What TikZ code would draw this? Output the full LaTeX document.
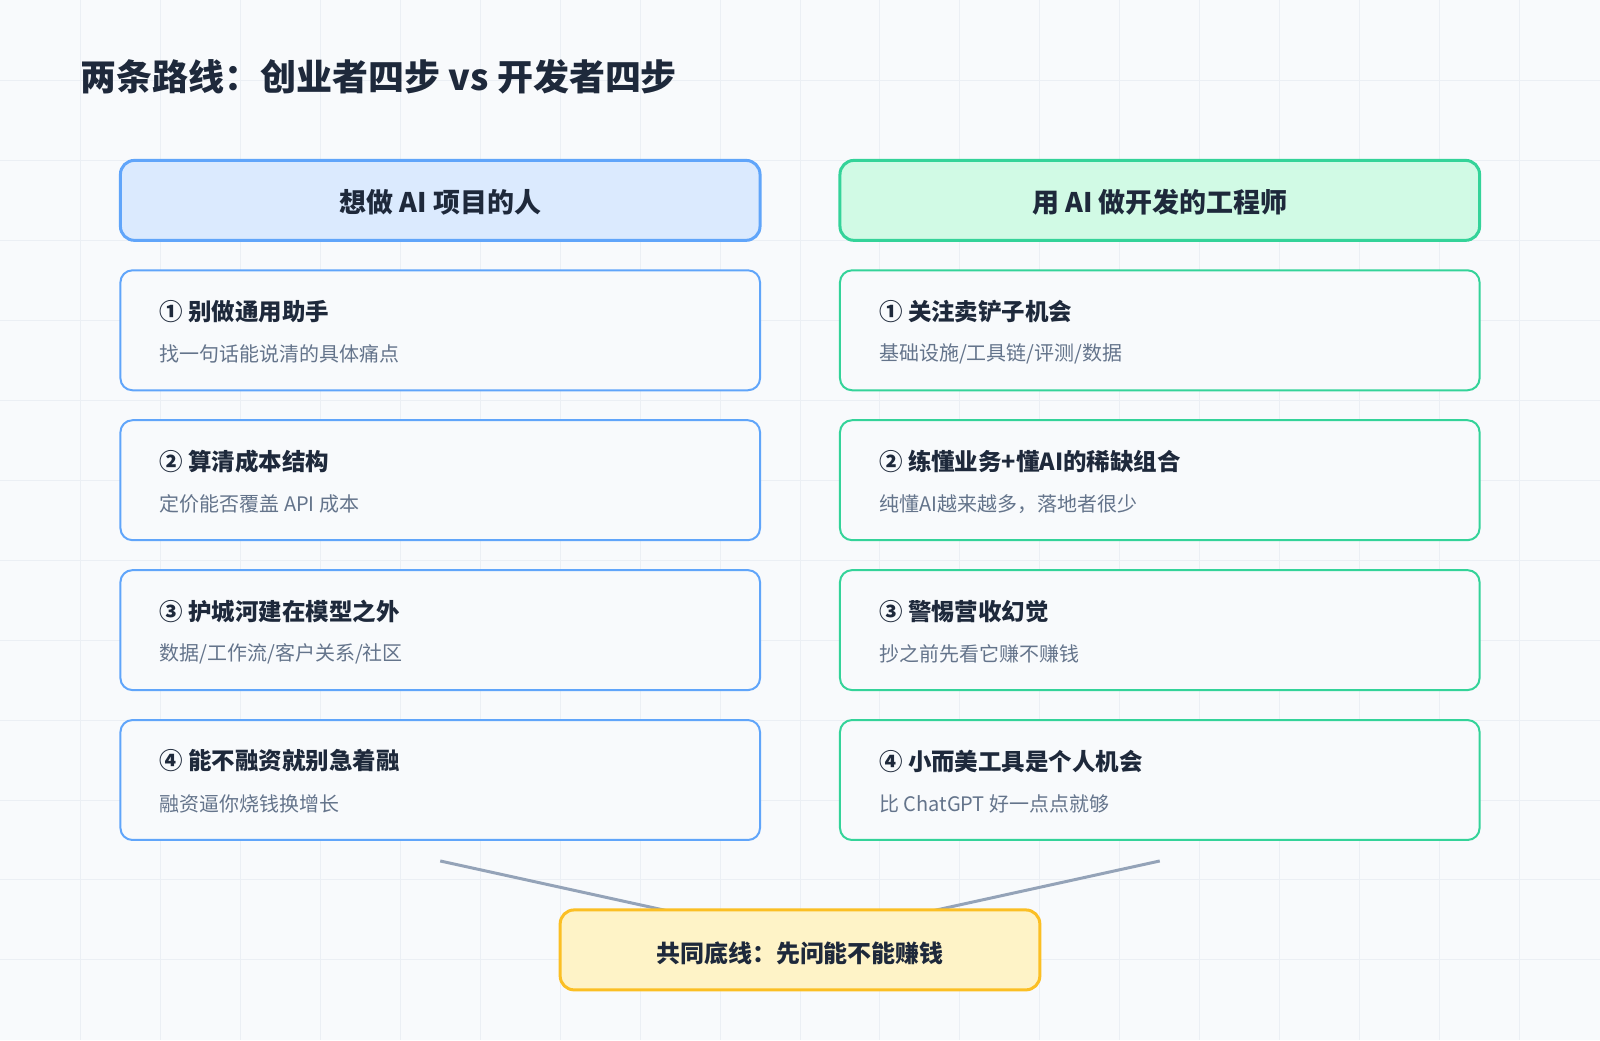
\documentclass[tikz,border=0pt]{standalone}
\usepackage{fontspec}
\setmainfont{Noto Sans CJK SC}
\usetikzlibrary{calc}
\pgfdeclarelayer{backdrop}
\pgfdeclarelayer{links}
\pgfsetlayers{backdrop,links,main}
\definecolor{bgc}{HTML}{F8FAFC}
\definecolor{gridc}{HTML}{EBEFF4}
\definecolor{ink}{HTML}{1E293B}
\definecolor{muted}{HTML}{64748B}
\definecolor{blueB}{HTML}{60A5FA}
\definecolor{blueF}{HTML}{DBEAFE}
\definecolor{greenB}{HTML}{34D399}
\definecolor{greenF}{HTML}{D1FAE5}
\definecolor{yelB}{HTML}{FBBF24}
\definecolor{yelF}{HTML}{FEF3C7}
\definecolor{linkc}{HTML}{94A3B8}
\tikzset{
  header/.style={draw, line width=3pt, rounded corners=14pt, minimum width=640pt, minimum height=80pt, inner sep=0pt},
  headtext/.style={inner sep=0pt, text=ink, font=\fontsize{27}{32}\selectfont\bfseries},
  stepbox/.style={draw, line width=2pt, fill=bgc, rounded corners=12pt, minimum width=640pt, minimum height=120pt, inner sep=0pt},
  steptitle/.style={anchor=west, inner sep=0pt, text=ink, font=\fontsize{23.5}{28}\selectfont\bfseries},
  stepsub/.style={anchor=west, inner sep=0pt, text=muted, font=\fontsize{20}{24}\selectfont},
  link/.style={linkc, line width=3pt},
  gridline/.style={gridc, line width=1pt}
}
\begin{document}
\begin{tikzpicture}[x=1pt,y=-1pt]
\begin{pgfonlayer}{backdrop}
\fill[bgc] (0,0) rectangle (1600,1040);
\foreach \i in {80,160,...,1520} \draw[gridline] (\i,0) -- (\i,1040);
\foreach \j in {80,160,...,960} \draw[gridline] (0,\j) -- (1600,\j);
\end{pgfonlayer}
\useasboundingbox (0,0) rectangle (1600,1040);

\node[anchor=west, inner sep=0pt, text=ink, font=\fontsize{36}{42}\selectfont\bfseries] (title) at (80,76) {两条路线：创业者四步 vs 开发者四步};

\node[header, fill=blueF, draw=blueB] (lh) at (440,200) {};
\node[headtext] (lht) at ($(lh.center)+(0,2)$) {想做 AI 项目的人};
\node[header, fill=greenF, draw=greenB] (rh) at (1160,200) {};
\node[headtext] (rht) at ($(rh.center)+(0,2)$) {用 AI 做开发的工程师};

% left column
\node[stepbox, draw=blueB] (l1) at (440,330) {};
\node[steptitle] (l1t) at ($(l1.north west)+(40,42)$) {① 别做通用助手};
\node[stepsub] (l1s) at ($(l1.north west)+(40,85)$) {找一句话能说清的具体痛点};
\node[stepbox, draw=blueB] (l2) at (440,480) {};
\node[steptitle] (l2t) at ($(l2.north west)+(40,42)$) {② 算清成本结构};
\node[stepsub] (l2s) at ($(l2.north west)+(40,85)$) {定价能否覆盖 API 成本};
\node[stepbox, draw=blueB] (l3) at (440,630) {};
\node[steptitle] (l3t) at ($(l3.north west)+(40,42)$) {③ 护城河建在模型之外};
\node[stepsub] (l3s) at ($(l3.north west)+(40,85)$) {数据/工作流/客户关系/社区};
\node[stepbox, draw=blueB] (l4) at (440,780) {};
\node[steptitle] (l4t) at ($(l4.north west)+(40,42)$) {④ 能不融资就别急着融};
\node[stepsub] (l4s) at ($(l4.north west)+(40,85)$) {融资逼你烧钱换增长};

% right column
\node[stepbox, draw=greenB] (r1) at (1160,330) {};
\node[steptitle] (r1t) at ($(r1.north west)+(40,42)$) {① 关注卖铲子机会};
\node[stepsub] (r1s) at ($(r1.north west)+(40,85)$) {基础设施/工具链/评测/数据};
\node[stepbox, draw=greenB] (r2) at (1160,480) {};
\node[steptitle] (r2t) at ($(r2.north west)+(40,42)$) {② 练懂业务+懂AI的稀缺组合};
\node[stepsub] (r2s) at ($(r2.north west)+(40,85)$) {纯懂AI越来越多，落地者很少};
\node[stepbox, draw=greenB] (r3) at (1160,630) {};
\node[steptitle] (r3t) at ($(r3.north west)+(40,42)$) {③ 警惕营收幻觉};
\node[stepsub] (r3s) at ($(r3.north west)+(40,85)$) {抄之前先看它赚不赚钱};
\node[stepbox, draw=greenB] (r4) at (1160,780) {};
\node[steptitle] (r4t) at ($(r4.north west)+(40,42)$) {④ 小而美工具是个人机会};
\node[stepsub] (r4s) at ($(r4.north west)+(40,85)$) {比 ChatGPT 好一点点就够};

% bottom
\node[draw=yelB, fill=yelF, line width=3pt, rounded corners=14pt, minimum width=480pt, minimum height=80pt, inner sep=0pt] (bot) at (800,950) {};
\node[inner sep=0pt, text=ink, font=\fontsize{24}{28}\selectfont\bfseries] (bott) at ($(bot.center)+(0,3)$) {共同底线：先问能不能赚钱};

\coordinate (la) at ($(l4.south)+(0,20)$);
\coordinate (ra) at ($(r4.south)+(0,20)$);
\coordinate (bt) at ($(bot.center)+(0,-10)$);
\begin{pgfonlayer}{links}
\draw[link] (la) -- (bt);
\draw[link] (ra) -- (bt);
\end{pgfonlayer}
\end{tikzpicture}
\end{document}
